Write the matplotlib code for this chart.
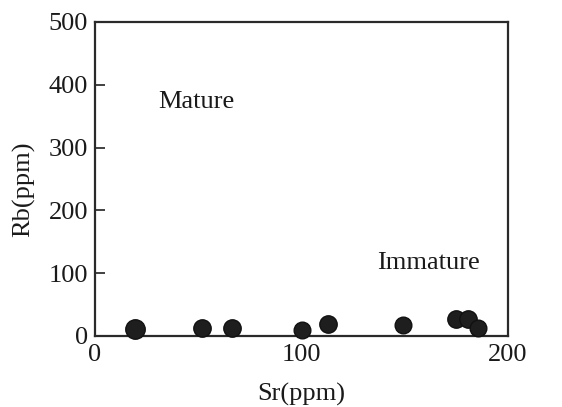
import matplotlib
matplotlib.use("Agg")
import matplotlib.pyplot as plt

# Sr vs Rb values
sr = [19.5, 51.8, 66.2, 100.0, 112.8, 149.3, 174.8, 180.8, 185.6]
rb = [11.0, 12.0, 12.0, 9.5, 18.6, 17.5, 26.5, 26.5, 13.0]
msize = [14, 12.5, 12.5, 12, 12.5, 12, 12.5, 12.5, 12]

xticks = [0, 100, 200]
yticks = [0, 100, 200, 300, 400, 500]

plt.rcParams['font.family'] = ['Liberation Serif', 'DejaVu Serif']

fig = plt.figure(figsize=(5.62, 4.07), dpi=100)
ax = fig.add_axes([95 / 562, 1 - 336 / 407, 413 / 562, 314 / 407])

for x, y, m in zip(sr, rb, msize):
    ax.plot(x, y, 'o', color='#1e1e1e', markersize=m, markeredgecolor='#111111',
            markeredgewidth=1.0, clip_on=False, zorder=3)

ax.text(30.5, 363, 'Mature', fontsize=19, color='#1a1a1a')
ax.text(136.5, 106.7, 'Immature', fontsize=19, color='#1a1a1a')

ax.set_xlim(0, 200)
ax.set_ylim(0, 500)
ax.set_xticks(xticks)
ax.set_yticks(yticks)
ax.tick_params(axis='y', direction='in', length=7, width=1.3, pad=5,
               labelsize=19, colors='#333333', labelcolor='#1a1a1a')
ax.tick_params(axis='x', length=0, pad=6, labelsize=19, labelcolor='#1a1a1a')
for s in ax.spines.values():
    s.set_linewidth(1.6)
    s.set_color('#2a2a2a')

ax.set_xlabel('Sr(ppm)', fontsize=19, color='#1a1a1a')
ax.set_ylabel('Rb(ppm)', fontsize=19, color='#1a1a1a')
ax.xaxis.set_label_coords(0.5, -0.148)
ax.yaxis.set_label_coords(-0.145, 0.468)

fig.savefig('out.png', dpi=100)
